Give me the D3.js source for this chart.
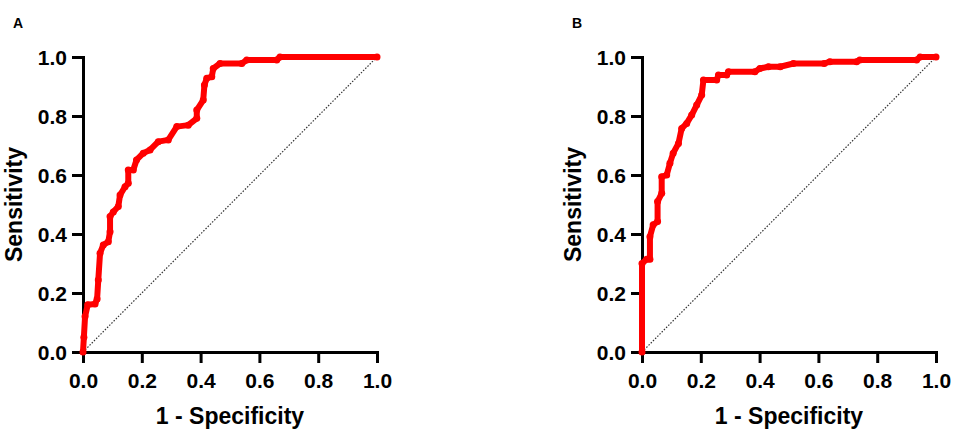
<!DOCTYPE html>
<html>
<head>
<meta charset="utf-8">
<script src="https://cdn.jsdelivr.net/npm/d3@7"></script>
<style>
  body { margin: 0; background: #fff; }
  text { font-family: "Liberation Sans", Arial, sans-serif; font-weight: bold; fill: #000; }
</style>
</head>
<body>
<script>
// ROC points (1 - specificity, sensitivity)
var rocA_fpr = [0, 0.003, 0.007, 0.016, 0.041, 0.048, 0.052, 0.058, 0.069, 0.086, 0.092, 0.092, 0.103, 0.12, 0.126, 0.143, 0.154, 0.154, 0.171, 0.182, 0.205, 0.228, 0.256, 0.29, 0.319, 0.358, 0.387, 0.387, 0.409, 0.413, 0.421, 0.438, 0.443, 0.466, 0.54, 0.557, 0.659, 0.67, 1];
var rocA_tpr = [0, 0.05, 0.12, 0.16, 0.163, 0.18, 0.244, 0.335, 0.363, 0.374, 0.408, 0.459, 0.475, 0.493, 0.532, 0.56, 0.572, 0.617, 0.617, 0.651, 0.674, 0.685, 0.713, 0.719, 0.764, 0.769, 0.792, 0.82, 0.854, 0.905, 0.928, 0.933, 0.961, 0.978, 0.978, 0.99, 0.99, 1, 1];

var rocB_fpr = [0, 0, 0.016, 0.027, 0.027, 0.038, 0.053, 0.053, 0.067, 0.067, 0.084, 0.095, 0.106, 0.124, 0.135, 0.152, 0.169, 0.186, 0.203, 0.209, 0.254, 0.26, 0.288, 0.294, 0.384, 0.401, 0.43, 0.47, 0.515, 0.62, 0.639, 0.73, 0.741, 0.934, 0.946, 1];
var rocB_tpr = [0, 0.30, 0.314, 0.314, 0.391, 0.431, 0.442, 0.51, 0.538, 0.594, 0.6, 0.64, 0.674, 0.707, 0.758, 0.775, 0.803, 0.837, 0.871, 0.922, 0.922, 0.939, 0.939, 0.95, 0.95, 0.961, 0.967, 0.967, 0.978, 0.978, 0.984, 0.984, 0.99, 0.99, 1, 1];

var tickValues = [0, 0.2, 0.4, 0.6, 0.8, 1.0];
var panelLabels = ['A', 'B'];
var xTitle = '1 - Specificity';
var yTitle = 'Sensitivity';

var width = 957, height = 437;

var svg = d3.select('body').append('svg')
    .attr('width', width)
    .attr('height', height);

svg.append('rect').attr('width', width).attr('height', height).attr('fill', '#fff');

//one panel per curve
function drawPanel(left, label, fpr, tpr){
    var top = 57, size = 294, plotH = 295;
    var g = svg.append('g').attr('transform', 'translate(' + left + ',' + top + ')');

    var x = d3.scaleLinear().domain([0, 1]).range([0, size]);
    var y = d3.scaleLinear().domain([0, 1]).range([plotH, 0]);

    var pts = fpr.map(function(d, i){ return [d, tpr[i]]; });

    //dotted chance line
    g.append('line')
        .attr('x1', x(0)).attr('y1', y(0))
        .attr('x2', x(1)).attr('y2', y(1))
        .attr('stroke', '#333')
        .attr('stroke-width', 1.2)
        .attr('stroke-dasharray', '1.5,1.6');

    //axes
    var xAxis = g.append('g')
        .attr('transform', 'translate(0,' + plotH + ')')
        .call(d3.axisBottom(x).tickValues(tickValues).tickFormat(d3.format('.1f')).tickSize(11).tickSizeOuter(0).tickPadding(10));
    var yAxis = g.append('g')
        .call(d3.axisLeft(y).tickValues(tickValues).tickFormat(d3.format('.1f')).tickSize(11).tickSizeOuter(0).tickPadding(5));

    [xAxis, yAxis].forEach(function(a){
        a.select('.domain').attr('stroke', '#000').attr('stroke-width', 3).attr('stroke-linecap', 'square');
        a.selectAll('.tick line').attr('stroke', '#000').attr('stroke-width', 3);
        a.selectAll('.tick text')
            .style('font-family', '"Liberation Sans", Arial, sans-serif')
            .style('font-weight', 'bold')
            .style('font-size', '21px')
            .attr('fill', '#000');
    });
    yAxis.selectAll('.tick text').attr('dy', '0.38em');

    //roc curve
    var line = d3.line()
        .x(function(d){ return x(d[0]); })
        .y(function(d){ return y(d[1]); });

    g.append('path')
        .datum(pts)
        .attr('d', line)
        .attr('fill', 'none')
        .attr('stroke', '#f00')
        .attr('stroke-width', 6)
        .attr('stroke-linejoin', 'round')
        .attr('stroke-linecap', 'round');

    g.selectAll('.pt')
        .data(pts)
        .enter().append('circle')
        .attr('class', 'pt')
        .attr('cx', function(d){ return x(d[0]); })
        .attr('cy', function(d){ return y(d[1]); })
        .attr('r', 3.5)
        .attr('fill', '#f00');

    //titles
    g.append('text')
        .attr('x', size / 2)
        .attr('y', 367)
        .attr('text-anchor', 'middle')
        .style('font-size', '23px')
        .text(xTitle);

    g.append('text')
        .attr('transform', 'translate(-61,' + (plotH / 2) + ') rotate(-90)')
        .attr('text-anchor', 'middle')
        .style('font-size', '23px')
        .text(yTitle);

    svg.append('text')
        .attr('x', left - 70)
        .attr('y', 28)
        .style('font-size', '14px')
        .text(label);
}

drawPanel(83, panelLabels[0], rocA_fpr, rocA_tpr);
drawPanel(642, panelLabels[1], rocB_fpr, rocB_tpr);
</script>
</body>
</html>
